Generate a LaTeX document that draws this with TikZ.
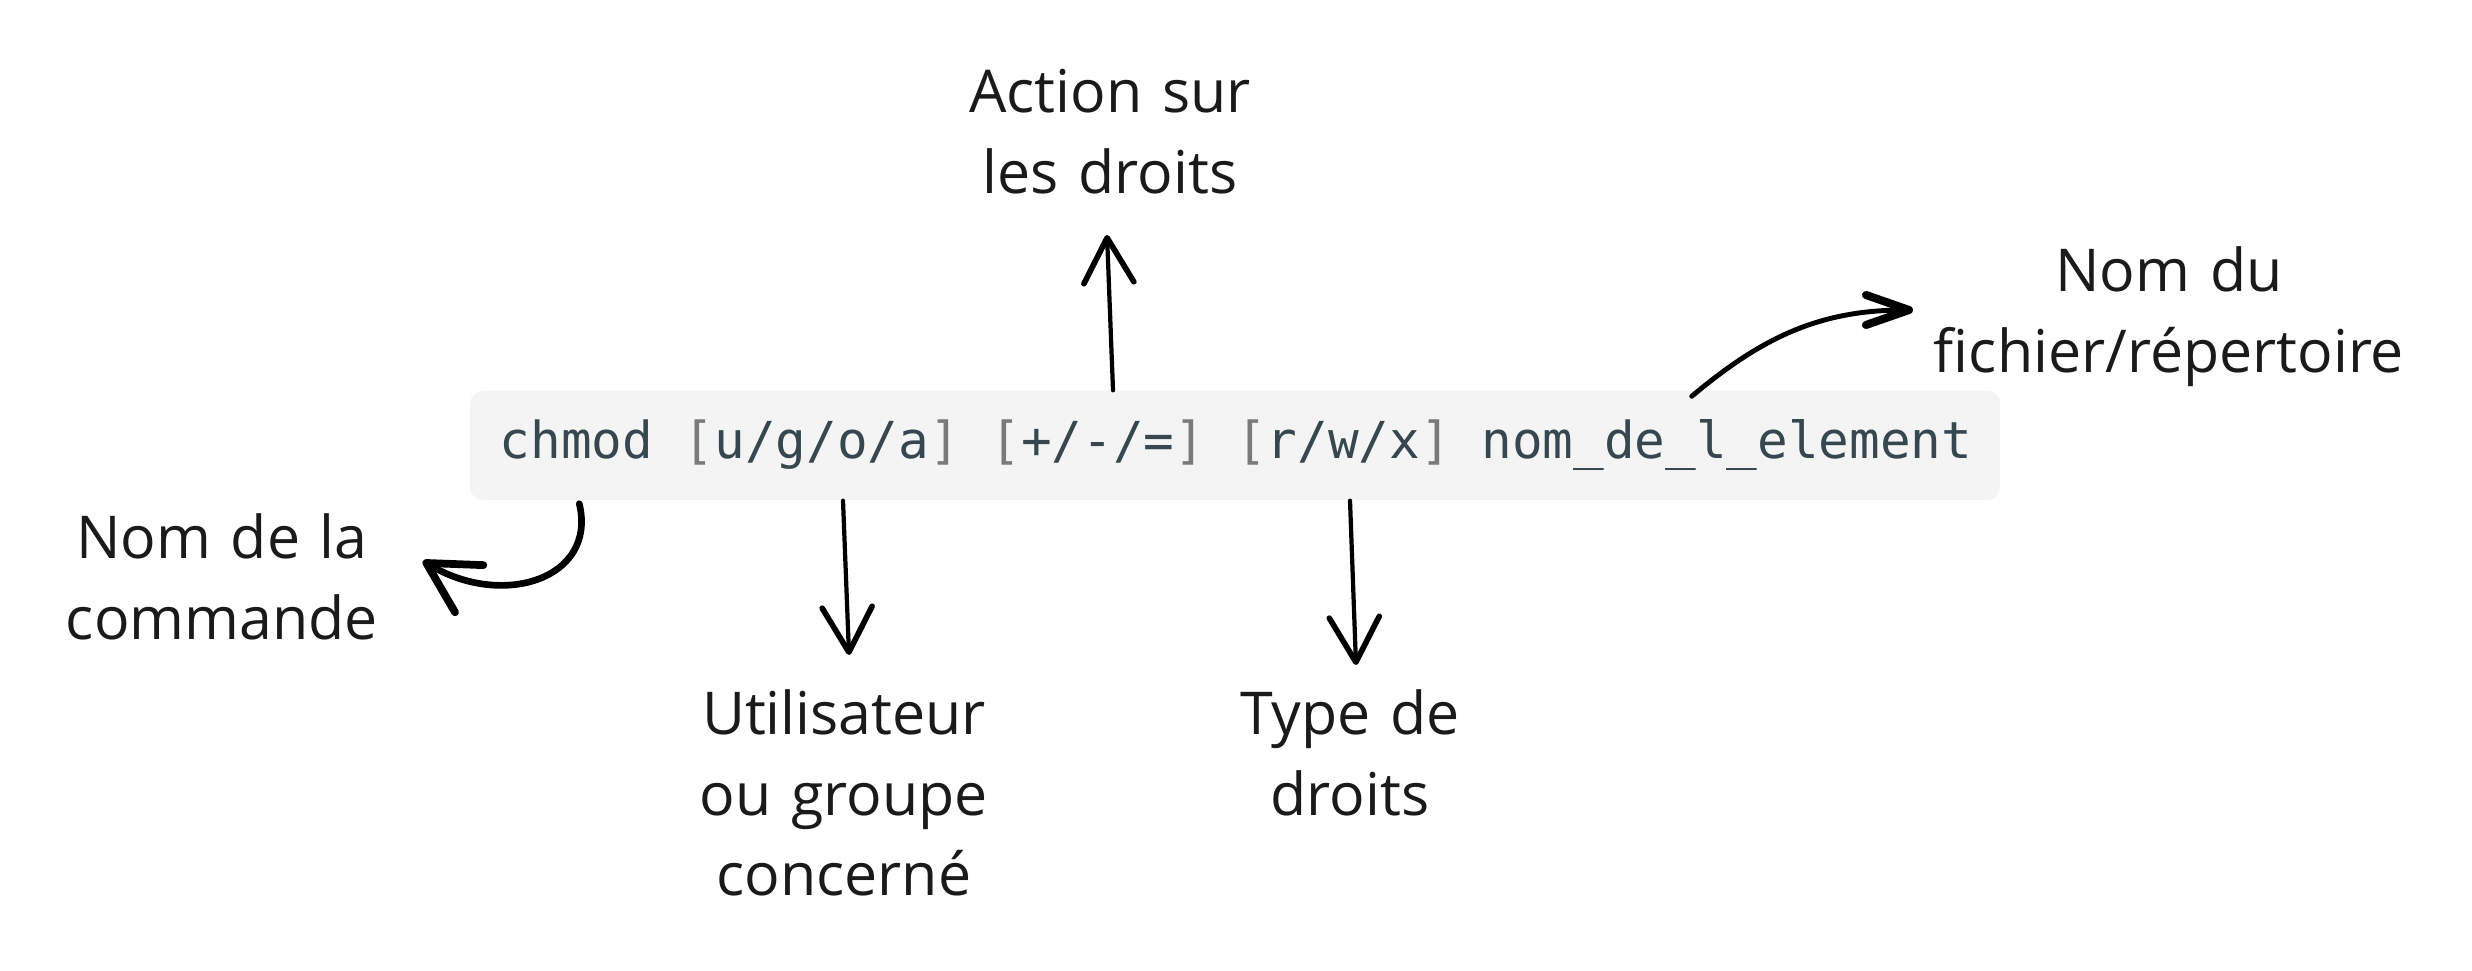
\documentclass[tikz,border=0pt]{standalone}
\usepackage{fontspec}
\setmainfont{Open Sans}
\newfontfamily\codefont{DejaVu Sans Mono}
\usetikzlibrary{arrows.meta,positioning}
\definecolor{codebg}{HTML}{F4F4F4}
\definecolor{codefg}{HTML}{37474F}
\definecolor{codebrk}{HTML}{7A7A7A}
\definecolor{inkblack}{HTML}{1A1A1A}
\newcommand{\brk}[1]{\textcolor{codebrk}{#1}}

\begin{document}
\begin{tikzpicture}[
txt/.style={text=inkblack,font=\fontsize{16.8pt}{22.8pt}\selectfont,text width=5cm,align=center,inner sep=0pt,anchor=base},
codebox/.style={fill=codebg,rounded corners=0.13cm,minimum width=15.3cm,minimum height=1.09cm,inner sep=0pt},
arr/.style={line width=1.2pt,line cap=round,-{Straight Barb[length=4.5mm,width=5mm,line width=1.6pt,round]}},
hook/.style={line width=1.9pt,line cap=round,-{Straight Barb[length=5mm,width=5.5mm,line width=2.2pt,round]}},
swoop/.style={line width=1.4pt,line cap=round,-{Straight Barb[length=4.3mm,width=3mm,line width=2.3pt,round]}}]

\useasboundingbox (0,0) rectangle (24.72,9.70);
\fill[white] (0,0) rectangle (24.72,9.70);

% the command line
\node (cmd) [codebox] at (12.35,5.245) {};
\node (code) [anchor=base,inner sep=0pt,text=codefg,font=\codefont\fontsize{14.5pt}{17pt}\selectfont] at (12.36,5.11)
  {chmod \brk{[}u/g/o/a\brk{]} \brk{[}+/-/=\brk{]} \brk{[}r/w/x\brk{]} nom\_de\_l\_element};

% the labels
\node (action) [txt] at (11.10,8.57) {Action sur\\les droits};
\node (fichier) [txt] at (21.69,6.78) {Nom du\\fichier/répertoire};
\node (commande) [txt] at (2.22,4.11) {Nom de la\\commande};
\node (user) [txt] at (8.44,2.35) {Utilisateur\\ou groupe\\concerné};
\node (type) [txt] at (13.50,2.35) {Type de\\droits};

\coordinate (actionTip) at (11.07,7.35);
\coordinate (userTip) at (8.49,3.15);
\coordinate (typeTip) at (13.56,3.05);
\coordinate (commandeTip) at (4.23,4.09);
\coordinate (fichierTip) at (19.13,6.60);

% the arrows
\draw [arr] ([xshift=-1.22cm]cmd.north) -- (actionTip);
\draw [arr] ([xshift=-3.92cm]cmd.south) -- (userTip);
\draw [arr] ([xshift=1.15cm]cmd.south) -- (typeTip);
\draw [hook] ([xshift=1.10cm,yshift=-0.03cm]cmd.south west) .. controls +(0.18,-0.75) and +(0.80,-0.48) .. (commandeTip);
\draw [swoop] ([xshift=-3.09cm,yshift=-0.06cm]cmd.north east) to[out=40,in=180] (fichierTip);
\end{tikzpicture}
\end{document}
